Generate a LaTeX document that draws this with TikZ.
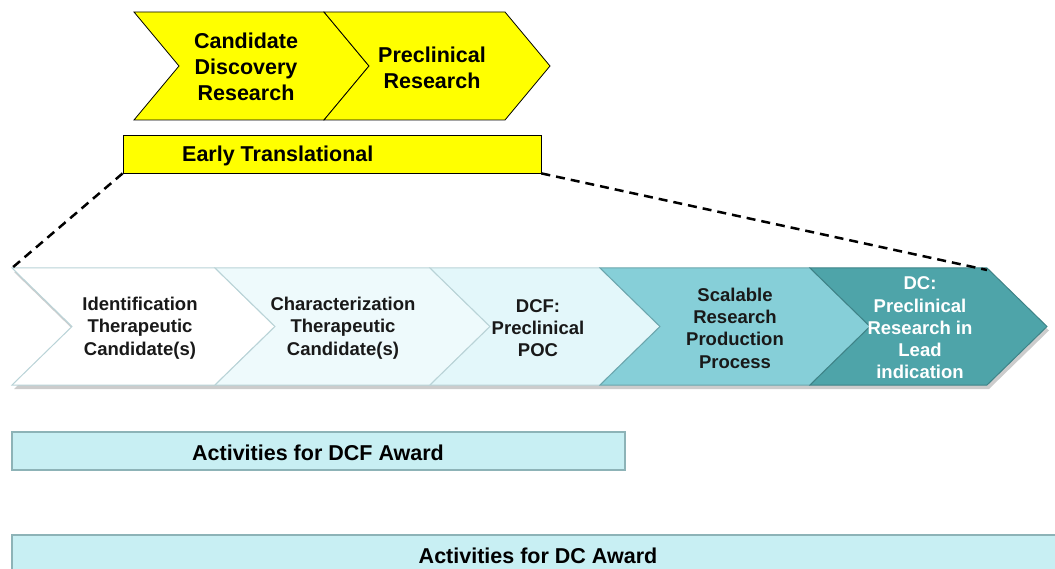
\documentclass[tikz,border=0pt]{standalone}
\usepackage{fontspec}
\setmainfont{Liberation Sans}
\definecolor{ylw}{HTML}{FFFF00}
\definecolor{cA}{HTML}{FFFFFF}
\definecolor{cB}{HTML}{EEFAFC}
\definecolor{cC}{HTML}{E3F7FA}
\definecolor{cD}{HTML}{86CFD8}
\definecolor{cE}{HTML}{4EA4A9}
\definecolor{barfill}{HTML}{C8EFF3}
\definecolor{barline}{HTML}{8DB3B7}
\definecolor{chevline}{HTML}{B9D3D7}
\begin{document}
\begin{tikzpicture}[x=1pt,y=-1pt,
  topchev/.style={fill=ylw,draw=black,line width=0.8pt,line join=miter},
  lowchev/.style={draw=chevline,line width=1pt,line join=miter},
  shadowchev/.style={fill=black,opacity=0.2},
  bigtxt/.style={font=\fontsize{21.5}{26}\selectfont\bfseries,align=center,text=black,inner sep=0pt},
  midtxt/.style={font=\fontsize{18.5}{22.3}\selectfont\bfseries,align=center,text=black!90,inner sep=0pt},
  barbox/.style={fill=barfill,draw=barline,line width=1.2pt,inner sep=0pt},
  dashconn/.style={dash pattern=on 9pt off 6pt,line width=2.5pt,black}
]
\useasboundingbox (0,0) rectangle (1055,569);

% top chevrons
\path[topchev] (134,12) -- (324,12) -- (369,66) -- (324,120) -- (134,120) -- (179,66) -- cycle;
\path[topchev] (324,12) -- (505,12) -- (550,66) -- (505,120) -- (324,120) -- (369,66) -- cycle;
\node[bigtxt] (t1) at (246,67) {Candidate\\Discovery\\Research};
\node[bigtxt] (t2) at (432,68) {Preclinical\\Research};

% early translational
\node[fill=ylw,draw=black,line width=0.8pt,minimum width=418pt,minimum height=38pt,inner sep=0pt] (early) at (332,154) {};
\node[bigtxt,anchor=west] (earlytxt) at (182,156) {Early Translational};

% shadow of the lower chevron row
\path[shadowchev] (14,272) -- (989,272) -- (1049,330.5) -- (989,389) -- (14,389) -- (74,330.5) -- cycle;
% lower chevrons
\path[lowchev,fill=cA] (12,268) -- (215,268) -- (275,326.5) -- (215,385) -- (12,385) -- (72,326.5) -- cycle;
\path[lowchev,fill=cB] (215,268) -- (430,268) -- (490,326.5) -- (430,385) -- (215,385) -- (275,326.5) -- cycle;
\path[lowchev,fill=cC] (430,268) -- (600,268) -- (660,326.5) -- (600,385) -- (430,385) -- (490,326.5) -- cycle;
\path[lowchev,fill=cD,draw=cD!80!black] (600,268) -- (810,268) -- (870,326.5) -- (810,385) -- (600,385) -- (660,326.5) -- cycle;
\path[lowchev,fill=cE,draw=cE!80!black] (810,268) -- (987,268) -- (1047,326.5) -- (987,385) -- (810,385) -- (870,326.5) -- cycle;

\node[midtxt] (l1) at (140,328) {Identification\\Therapeutic\\Candidate(s)};
\node[midtxt] (l2) at (343,328) {Characterization\\Therapeutic\\Candidate(s)};
\node[midtxt] (l3) at (538,328) {DCF:\\Preclinical\\POC};
\node[midtxt] (l4) at (735,328) {Scalable\\Research\\Production\\Process};
\node[midtxt,text=white] (l5) at (920,328) {DC:\\Preclinical\\Research in\\Lead\\indication};

% connectors
\coordinate (c1) at (12,268);
\coordinate (c5) at (987,270);
\draw[dashconn] (early.south west) -- (c1);
\draw[dashconn] (early.south east) -- (c5);

% bars
\node[barbox,minimum width=613pt,minimum height=38pt] (dcf) at (318.5,451) {};
\node[bigtxt] (dcftxt) at (318,453) {Activities for DCF Award};
\node[barbox,minimum width=1050pt,minimum height=40pt] (dc) at (537,555) {};
\node[bigtxt] (dctxt) at (538,556) {Activities for DC Award};
\end{tikzpicture}
\end{document}
